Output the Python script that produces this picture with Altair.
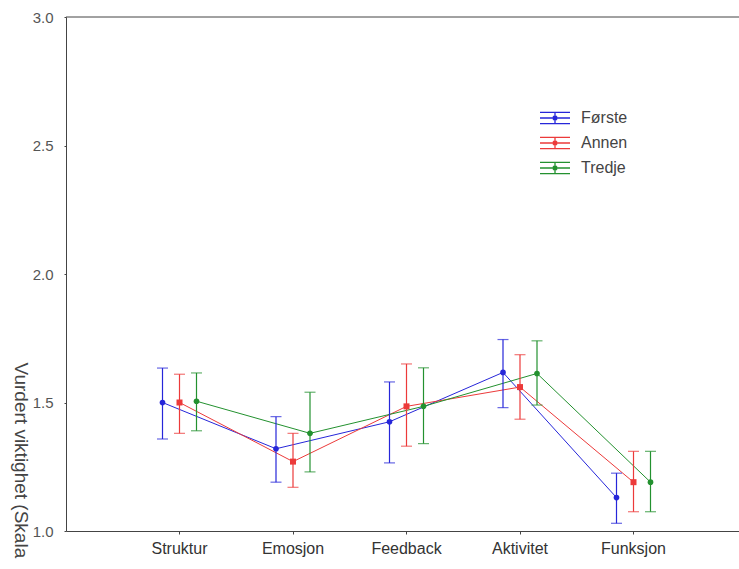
import altair as alt
import pandas as pd

categories = ["Struktur", "Emosjon", "Feedback", "Aktivitet", "Funksjon"]
series = ["Første", "Annen", "Tredje"]
colors = ["#2626d9", "#ec3a3a", "#23912f"]

mean_forste = [1.50, 1.32, 1.425, 1.617, 1.13]
low_forste = [1.358, 1.19, 1.265, 1.48, 1.03]
high_forste = [1.634, 1.445, 1.58, 1.745, 1.225]

mean_annen = [1.50, 1.27, 1.485, 1.56, 1.19]
low_annen = [1.38, 1.17, 1.33, 1.435, 1.075]
high_annen = [1.61, 1.38, 1.65, 1.686, 1.31]

mean_tredje = [1.505, 1.38, 1.485, 1.613, 1.19]
low_tredje = [1.39, 1.23, 1.34, 1.49, 1.075]
high_tredje = [1.615, 1.54, 1.635, 1.74, 1.31]

y_ticks = [1.0, 1.5, 2.0, 2.5, 3.0]
y_max = 3.0
y_title = "Vurdert viktighet (Skala"

rows = []
for s, m, lo, hi in [
    ("Første", mean_forste, low_forste, high_forste),
    ("Annen", mean_annen, low_annen, high_annen),
    ("Tredje", mean_tredje, low_tredje, high_tredje),
]:
    for c, mv, lv, hv in zip(categories, m, lo, hi):
        rows.append({"kategori": c, "gruppe": s, "mean": mv, "lo": lv, "hi": hv})
df = pd.DataFrame(rows)

FONT = "Liberation Sans"

x_scale = alt.Scale(domain=categories, range=[0, 681], paddingOuter=0.5, paddingInner=0)
x_enc = alt.X(
    "kategori:N",
    sort=categories,
    scale=x_scale,
    axis=alt.Axis(title=None, labelAngle=0, labelFontSize=16, labelPadding=6,
                  tickSize=3, domainColor="#444", tickColor="#444",
                  labelColor="#333", labelFont=FONT),
)
xoff = alt.XOffset(
    "gruppe:N",
    sort=series,
    scale=alt.Scale(domain=series, range=[31.25, 82.25], paddingOuter=0, paddingInner=0),
)
y_scale = alt.Scale(domain=[1, 3], nice=False, zero=False)
y_enc = alt.Y(
    "mean:Q",
    scale=y_scale,
    axis=alt.Axis(values=y_ticks, format=".1f", title=y_title,
                  titleAngle=90, titleX=-46, titleY=345, titleAlign="left",
                  titleBaseline="middle", titleFontSize=19, titleFontWeight="normal",
                  titleColor="#444", titleFont=FONT,
                  labelFontSize=15, labelColor="#555", labelFont=FONT, labelPadding=11,
                  tickSize=2, grid=False, domainColor="#444", tickColor="#444"),
)
color_scale = alt.Scale(domain=series, range=colors)
color_legend = alt.Color(
    "gruppe:N",
    sort=series,
    scale=color_scale,
    legend=alt.Legend(
        title=None, orient="none", legendX=473, legendY=85,
        labelFontSize=16, labelFont=FONT, labelColor="#444",
        symbolType="M-1,-0.37H1M-1,0H1M-1,0.37H1M0,-0.37V0.37M-0.15,-0.08H0.15M-0.15,0.08H0.15M-0.08,-0.15V0.15M0.08,-0.15V0.15",
        symbolSize=900, symbolStrokeWidth=1.3, symbolFillColor="transparent",
        rowPadding=-7, labelOffset=10, padding=0,
    ),
)
color_nolegend = alt.Color("gruppe:N", sort=series, scale=color_scale, legend=None)
fill_enc = alt.Fill("gruppe:N", sort=series,
                    scale=alt.Scale(domain=series, range=colors), legend=None)

base = alt.Chart(df)

lines = base.mark_line(strokeWidth=1).encode(
    x=x_enc, xOffset=xoff, y=y_enc, color=color_legend, detail="gruppe:N"
)
rules = base.mark_rule(strokeWidth=1.2).encode(
    x=x_enc, xOffset=xoff, y=alt.Y("lo:Q", scale=y_scale), y2="hi:Q",
    color=color_nolegend,
)
caps_hi = base.mark_tick(size=11, thickness=1.2).encode(
    x=x_enc, xOffset=xoff, y=alt.Y("hi:Q", scale=y_scale), color=color_nolegend,
)
caps_lo = base.mark_tick(size=11, thickness=1.2).encode(
    x=x_enc, xOffset=xoff, y=alt.Y("lo:Q", scale=y_scale), color=color_nolegend,
)
dots = base.transform_filter(alt.datum.gruppe != series[1]).mark_point(
    shape="circle", filled=True, size=32, opacity=1
).encode(x=x_enc, xOffset=xoff, y=y_enc, fill=fill_enc)
squares = base.transform_filter(alt.datum.gruppe == series[1]).mark_point(
    shape="square", filled=True, size=36, opacity=1
).encode(x=x_enc, xOffset=xoff, y=y_enc, fill=fill_enc)
top_border = alt.Chart(pd.DataFrame({"top": [y_max]})).mark_rule(
    color="#444", strokeWidth=1
).encode(y=alt.Y("top:Q", scale=y_scale))

chart = (
    alt.layer(lines, rules, caps_hi, caps_lo, dots, squares, top_border)
    .properties(
        width=673, height=514,
        autosize=alt.AutoSizeParams(type="none"),
        padding={"left": 66, "top": 17, "right": 0, "bottom": 38},
        background="white",
    )
    .configure_view(stroke=None)
)

chart.save("out.html", embed_options={"renderer": "svg", "actions": False})
